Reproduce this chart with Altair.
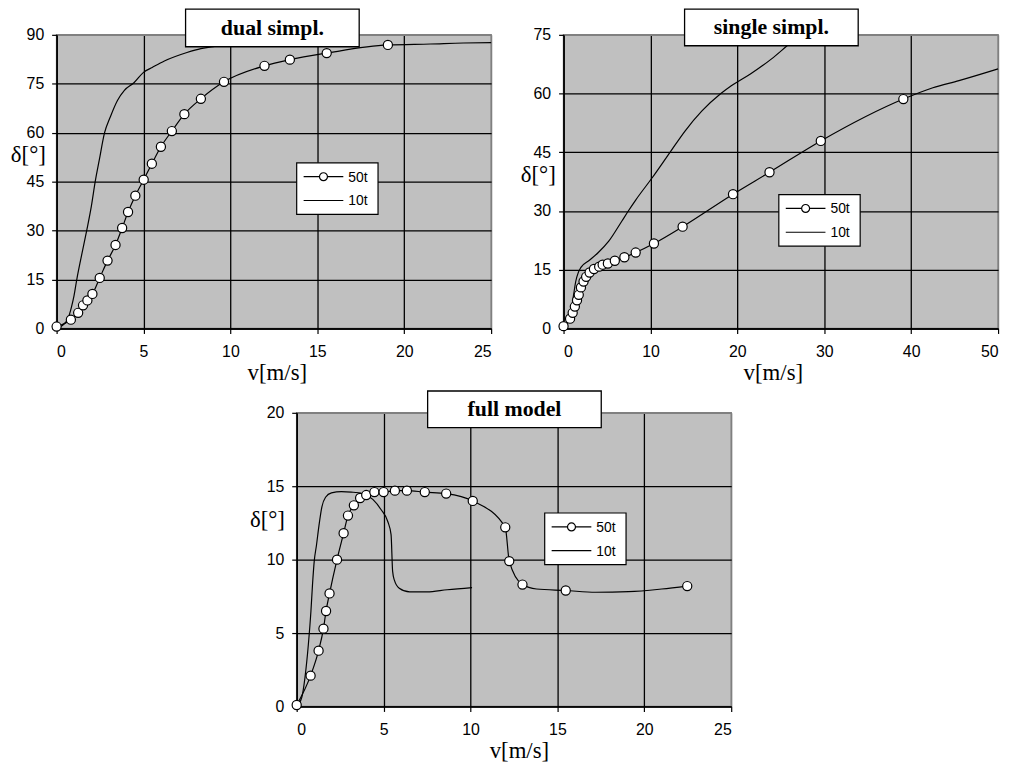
import altair as alt
import pandas as pd

# ---------------- data ----------------
# dual simpl.
dual_50_mk_v = [0, 0.82, 1.24, 1.52, 1.77, 2.06, 2.48, 2.93, 3.39, 3.77, 4.11, 4.53, 5.01, 5.48, 6.0, 6.63, 7.35, 8.30, 9.63, 11.96, 13.42, 15.54, 19.06]
dual_50_mk_d = [0.6, 2.7, 4.8, 7.1, 8.6, 10.6, 15.5, 20.8, 25.6, 30.8, 35.7, 40.7, 45.6, 50.5, 55.7, 60.5, 65.7, 70.4, 75.6, 80.5, 82.4, 84.4, 86.9]
dual_50_ex_v = [21.5, 23.4, 25.0]
dual_50_ex_d = [87.2, 87.5, 87.6]
dual_10_v = [0, 0.35, 0.65, 0.85, 1.0, 1.16, 1.4, 1.73, 2.0, 2.22, 2.45, 2.76, 3.1, 3.5, 3.9, 4.45, 5.0, 5.5, 6.2, 7.5, 8.3, 9.0, 10.0]
dual_10_d = [0, 1, 3, 6.5, 10, 15, 21.5, 30, 37.5, 45, 51.5, 60, 65, 69.9, 73, 75.3, 78.5, 80, 82, 84.6, 85.8, 86.4, 87.0]

# single simpl.
single_50_mk_v = [0, 0.75, 1.05, 1.3, 1.55, 1.75, 2.0, 2.3, 2.6, 3.0, 3.5, 4.1, 4.5, 5.1, 5.9, 7.0, 8.3, 10.4, 13.7, 19.5, 23.7, 29.6, 39.1]
single_50_mk_d = [0.6, 2.5, 4.0, 5.6, 7.2, 8.6, 10.5, 12.0, 13.2, 14.3, 15.2, 15.8, 16.3, 16.6, 17.3, 18.2, 19.4, 21.7, 26.0, 34.3, 39.9, 47.9, 58.6]
single_50_ex_v = [42.5, 45.5, 50.0]
single_50_ex_d = [61.5, 63.3, 66.3]
single_10_v = [0, 0.5, 0.85, 1.15, 1.4, 1.7, 2.0, 2.9, 4.0, 5.2, 6.7, 7.45, 8.3, 10.2, 12.25, 14.0, 15.9, 18.1, 19.3, 21.5, 23.9, 26.1, 27.3]
single_10_d = [0, 1.7, 4.5, 8.5, 12, 14.3, 15.6, 17.3, 19.4, 22.3, 27.4, 30, 32.8, 38.5, 45, 50.5, 55.5, 60, 62, 65, 68.8, 72.9, 75]

# full model
full_50_mk_v = [0, 0.8, 1.26, 1.54, 1.69, 1.89, 2.32, 2.7, 2.95, 3.29, 3.65, 4.0, 4.47, 5.0, 5.65, 6.34, 7.37, 8.6, 10.13, 12.0, 12.23, 12.99, 15.48, 22.47]
full_50_mk_d = [0.1, 2.1, 3.8, 5.3, 6.5, 7.7, 10.0, 11.8, 13.0, 13.7, 14.2, 14.4, 14.6, 14.6, 14.7, 14.7, 14.6, 14.5, 14.0, 12.2, 9.9, 8.3, 7.9, 8.2]
full_50_ex_v = [13.8, 17.2, 19.1, 21.0]
full_50_ex_d = [8.0, 7.78, 7.82, 8.0]
full_10_v = [0, 0.29, 0.48, 0.67, 0.82, 0.91, 1.01, 1.14, 1.28, 1.45, 1.66, 2.0, 2.57, 3.14, 3.81, 4.38, 4.86, 5.24, 5.43, 5.52, 5.62, 5.9, 6.5, 7.5, 8.66, 10.09]
full_10_d = [0, 0.6, 2.0, 4.2, 6.5, 8.3, 9.9, 11.0, 12.3, 13.6, 14.25, 14.55, 14.63, 14.6, 14.5, 14.1, 13.4, 12.6, 11.7, 9.2, 8.6, 8.05, 7.8, 7.8, 7.95, 8.1]

series_names = ["50t", "10t"]
titles = ["dual simpl.", "single simpl.", "full model"]
x_title = "v[m/s]"
y_title = "δ[°]"

W, H = 438, 296
SERIF = "Liberation Serif"
SANS = "Liberation Sans"


def legend_layers(bx, by):
    """Boxed legend drawn in pixel space of the panel (like the spreadsheet legend)."""
    d50 = pd.DataFrame({"s": [series_names[0]]})
    d10 = pd.DataFrame({"s": [series_names[1]]})
    frame = alt.Chart(d50).mark_rect(fill="white", stroke="black", strokeWidth=1.2).encode(
        x=alt.value(bx), x2=alt.value(bx + 82), y=alt.value(by), y2=alt.value(by + 52))
    l50 = alt.Chart(d50).mark_rule(color="black", strokeWidth=1.2).encode(
        x=alt.value(bx + 7), x2=alt.value(bx + 47), y=alt.value(by + 14))
    c50 = alt.Chart(d50).mark_point(shape="circle", filled=True, fill="white", stroke="black",
                                    strokeWidth=1.2, size=64, opacity=1).encode(
        x=alt.value(bx + 27), y=alt.value(by + 14))
    l10 = alt.Chart(d10).mark_rule(color="black", strokeWidth=1.2).encode(
        x=alt.value(bx + 7), x2=alt.value(bx + 47), y=alt.value(by + 38))
    t50 = alt.Chart(d50).mark_text(font=SANS, fontSize=14, color="black", align="left", baseline="middle").encode(
        x=alt.value(bx + 52), y=alt.value(by + 15), text="s:N")
    t10 = alt.Chart(d10).mark_text(font=SANS, fontSize=14, color="black", align="left", baseline="middle").encode(
        x=alt.value(bx + 52), y=alt.value(by + 39), text="s:N")
    return [frame, l50, c50, l10, t50, t10]


def panel(title, mk_v, mk_d, ex_v, ex_d, t_v, t_d, xmax, xstep, ymax, ystep, g):
    pts50 = sorted(zip(mk_v + ex_v, mk_d + ex_d))
    rows = [{"v": v, "d": d, "series": "50t", "idx": i} for i, (v, d) in enumerate(pts50)]
    rows += [{"v": v, "d": d, "series": "10t", "idx": i} for i, (v, d) in enumerate(zip(t_v, t_d))]
    df_line = pd.DataFrame(rows)
    df_mk = pd.DataFrame({"v": mk_v, "d": mk_d})
    df_title = pd.DataFrame({"t": [title]})

    x = alt.X("v:Q", scale=alt.Scale(domain=[0, xmax], nice=False, zero=True),
              axis=alt.Axis(values=list(range(0, xmax + 1, xstep)), title=x_title,
                            titleX=g["xt"][0], titleY=g["xt"][1],
                            titleAlign="center", titleBaseline="middle",
                            gridColor=alt.condition(f"datum.value == {xmax}", alt.value("#808080"), alt.value("black"))))
    y = alt.Y("d:Q", scale=alt.Scale(domain=[0, ymax], nice=False, zero=True),
              axis=alt.Axis(values=list(range(0, ymax + 1, ystep)), title=y_title,
                            titleAngle=0, titleX=g["yt"][0], titleY=g["yt"][1],
                            titleAlign="center", titleBaseline="middle",
                            gridColor=alt.condition(f"datum.value == {ymax}", alt.value("#808080"), alt.value("black"))))

    line = alt.Chart(df_line).mark_line(color="black", strokeWidth=1.2, interpolate="monotone").encode(
        x=x, y=y, detail="series:N", order="idx:Q")
    markers = alt.Chart(df_mk).mark_point(shape="circle", filled=True, fill="white", stroke="black",
                                          strokeWidth=1.2, size=85, opacity=1).encode(x=x, y=y)
    box = alt.Chart(df_title).mark_rect(fill="white", stroke="black", strokeWidth=1.3).encode(
        x=alt.value(g["box"][0]), x2=alt.value(g["box"][1]), y=alt.value(g["box"][2]), y2=alt.value(g["box"][3]))
    txt = alt.Chart(df_title).mark_text(font=SERIF, fontSize=22, fontWeight="bold", color="black",
                                        align="center", baseline="middle").encode(
        x=alt.value(g["tt"][0]), y=alt.value(g["tt"][1]), text="t:N")
    layers = [line, markers, box, txt] + legend_layers(*g["lg"])
    return alt.layer(*layers).properties(
        width=W, height=H, view=alt.ViewBackground(fill="#c0c0c0", stroke="#808080", strokeWidth=1.5))


p1 = panel(titles[0], dual_50_mk_v, dual_50_mk_d, dual_50_ex_v, dual_50_ex_d, dual_10_v, dual_10_d, 25, 5, 90, 15,
           {"xt": (222, 44), "yt": (-29, 121), "lg": (242, 129), "box": (130, 305, -26, 12), "tt": (217.5, -7)})
p2 = panel(titles[1], single_50_mk_v, single_50_mk_d, single_50_ex_v, single_50_ex_d, single_10_v, single_10_d, 50, 10, 75, 15,
           {"xt": (211, 44), "yt": (-26, 141), "lg": (217, 161), "box": (122, 297, -26, 11), "tt": (209.5, -7.5)})
p3 = panel(titles[2], full_50_mk_v, full_50_mk_d, full_50_ex_v, full_50_ex_d, full_10_v, full_10_d, 25, 5, 20, 5,
           {"xt": (224, 44), "yt": (-30, 108), "lg": (250, 101), "box": (132, 307, -22, 15), "tt": (219.5, -3.5)})

spacer = alt.Chart(pd.DataFrame({"s": [0]})).mark_point(opacity=0, size=0).encode(
    x=alt.value(0), y=alt.value(0)).properties(width=1, height=H)

top = alt.hconcat(p1, p2, spacing=73, bounds="flush")
bottom = alt.hconcat(spacer, p3, spacing=241, bounds="flush")

chart = alt.vconcat(top, bottom, spacing=4, bounds="full").properties(
    padding={"left": 1, "top": -4, "right": 5, "bottom": 5}, background="white"
).configure_view(strokeWidth=0).configure_axis(
    domainColor="black", domainWidth=1.5, gridWidth=1.3, tickColor="black", tickSize=5, tickWidth=1.2,
    labelFont=SANS, labelFontSize=16, labelColor="black", labelPadding=8,
    titleFont=SERIF, titleFontSize=23, titleFontWeight="normal", titleColor="black"
).configure_axisX(labelPadding=10)

chart.save("out.html", embed_options={"renderer": "svg", "actions": False})
